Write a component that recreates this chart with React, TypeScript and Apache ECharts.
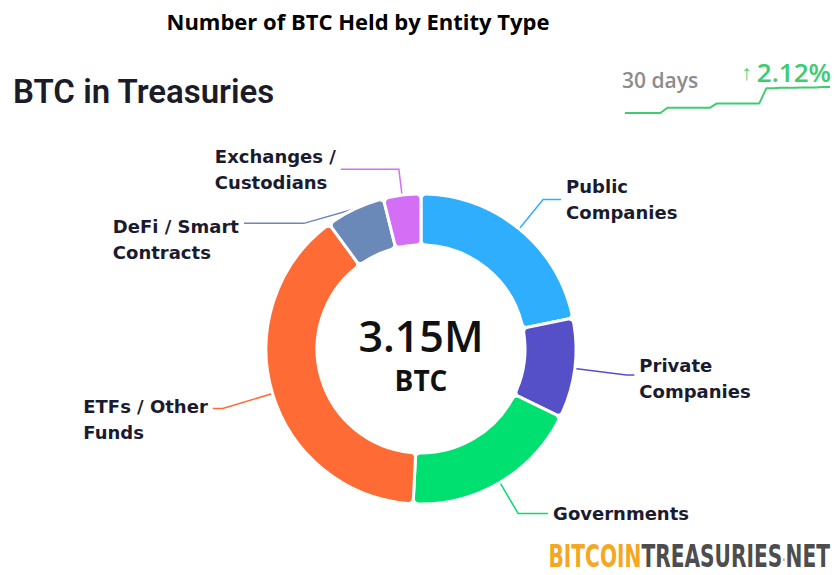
import React, { useEffect, useRef } from "react";
import * as echarts from "echarts";

const categories = [
  "Public\nCompanies",
  "Private\nCompanies",
  "Governments",
  "ETFs / Other\nFunds",
  "DeFi / Smart\nContracts",
  "Exchanges /\nCustodians",
];
// thousands of BTC
const holdings = [687, 328, 586, 1232, 195, 123];
const colors = ["#2eaefc", "#5550c8", "#00e070", "#ff6b35", "#6a89b8", "#d36ef5"];
const lineLengths = [
  [38, 18],
  [52, 8],
  [36, 30],
  [52, 10],
  [14, 60],
  [26, 58],
];
const labelShiftY = [0, 3, 0, 11, 16, 0];

// 30-day total BTC held (millions)
const sparkDays = Array.from({ length: 30 }, (_, i) => String(i + 1));
const sparkValues = [
  3.085, 3.085, 3.085, 3.085, 3.085, 3.085, 3.098, 3.098, 3.098, 3.098,
  3.098, 3.098, 3.098, 3.109, 3.109, 3.109, 3.109, 3.109, 3.109, 3.109,
  3.147, 3.147, 3.148, 3.148, 3.148, 3.149, 3.149, 3.149, 3.150, 3.150,
];
const changePct = "2.12%";

export default function App() {
  const ref = useRef<HTMLDivElement>(null);
  useEffect(() => {
    if (!ref.current) return;
    const chart = echarts.init(ref.current, undefined, { renderer: "svg" });
    const total = holdings.reduce((a, b) => a + b, 0);
    const labelFont = "'DejaVu Sans', 'Open Sans', sans-serif";
    const logoFont = "bold 32px 'DejaVu Sans', sans-serif";
    chart.setOption({
      animation: false,
      backgroundColor: "#ffffff",
      title: {
        text: "Number of BTC Held by Entity Type",
        left: 353,
        top: 5,
        textAlign: "center",
        textStyle: {
          fontFamily: "'Open Sans', sans-serif",
          fontWeight: 700,
          fontSize: 22,
          color: "#000000",
        },
      },
      grid: { left: 625, top: 87, width: 205, height: 26 },
      xAxis: { type: "category", data: sparkDays, show: false, boundaryGap: false },
      yAxis: { type: "value", show: false, min: 3.085, max: 3.15 },
      graphic: [
        {
          type: "text",
          left: 13,
          top: 75,
          style: {
            text: "BTC in Treasuries",
            font: "600 33px Roboto, 'Open Sans', sans-serif",
            fill: "#1c1c28",
          },
        },
        {
          type: "text",
          x: 622,
          y: 80,
          style: {
            text: "30 days",
            font: "600 21px 'Open Sans', sans-serif",
            fill: "#8c8c8c",
            verticalAlign: "middle",
          },
        },
        {
          type: "text",
          x: 831,
          y: 72,
          style: {
            text: "{a|↑}{b|" + changePct + "}",
            align: "right",
            verticalAlign: "middle",
            rich: {
              a: { fontSize: 21, fill: "#3dcc70", fontFamily: "'Open Sans'", padding: [0, 5, 0, 0] },
              b: { fontSize: 26, fontWeight: 600, fill: "#3dcc70", fontFamily: "'Open Sans'" },
            },
          },
        },
        {
          type: "text",
          x: 421,
          y: 335,
          style: {
            text: (total / 1000).toFixed(2) + "M",
            font: "600 43px 'Open Sans', sans-serif",
            lineHeight: 44,
            fill: "#111111",
            align: "center",
            verticalAlign: "middle",
          },
        },
        {
          type: "text",
          x: 421,
          y: 380,
          style: {
            text: "BTC",
            font: "bold 28px 'Open Sans', sans-serif",
            lineHeight: 30,
            fill: "#111111",
            align: "center",
            verticalAlign: "middle",
          },
        },
        {
          type: "text",
          x: 830,
          y: 556,
          scaleX: 0.63,
          style: {
            text: "{o|BITCOIN}{g|TREASURIES}{d|.}{n|NET}",
            align: "right",
            verticalAlign: "middle",
            rich: {
              o: { font: logoFont, fill: "#f5a623", lineHeight: 30 },
              g: { font: logoFont, fill: "#4d4d4d", lineHeight: 30 },
              d: { font: "bold 14px 'DejaVu Sans', sans-serif", fill: "#f5a623", lineHeight: 30 },
              n: { font: logoFont, fill: "#4d4d4d", lineHeight: 30 },
            },
          },
        },
      ],
      series: [
        {
          type: "line",
          data: sparkValues,
          showSymbol: false,
          lineStyle: { color: "#3dcc70", width: 2 },
          itemStyle: { color: "#3dcc70" },
          silent: true,
        },
        {
          type: "pie",
          center: [421, 349],
          radius: [104, 155],
          startAngle: 90,
          clockwise: true,
          avoidLabelOverlap: true,
          itemStyle: { borderColor: "#ffffff", borderWidth: 3, borderRadius: 5 },
          labelLayout: (params: any) => ({ dy: labelShiftY[params.dataIndex] || 0 }),
          label: {
            show: true,
            position: "outside",
            fontFamily: labelFont,
            fontSize: 18,
            fontWeight: 700,
            lineHeight: 26,
            color: "#1b1b2f",
            formatter: (p: any) =>
              String(p.name)
                .split("\n")
                .map((s: string) => "{t|" + s + "}")
                .join("\n"),
            rich: {
              t: {
                align: "left",
                fontFamily: labelFont,
                fontSize: 18,
                fontWeight: 700,
                lineHeight: 26,
                color: "#1b1b2f",
              },
            },
          },
          labelLine: { show: true, lineStyle: { width: 1.5 } },
          data: categories.map((name, i) => ({
            name,
            value: holdings[i],
            itemStyle: { color: colors[i] },
            labelLine: { length: lineLengths[i][0], length2: lineLengths[i][1] },
          })),
        },
      ],
    });
    return () => chart.dispose();
  }, []);
  return (
    <div
      ref={ref}
      style={{ position: "fixed", left: 0, top: 0, width: 835, height: 575 }}
    />
  );
}
